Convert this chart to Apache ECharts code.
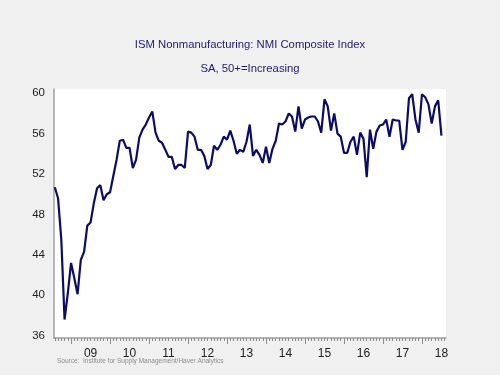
<!DOCTYPE html>
<html lang="en">
<head>
    <meta charset="UTF-8">
    <title>ISM Nonmanufacturing</title>
    <style>
        html, body {
            margin: 0;
            padding: 0;
            background: #f0f0f0;
        }

        #chart {
            width: 500px;
            height: 375px;
        }
    </style>
</head>
<body>
<div id="chart"></div>
<script src="https://cdn.jsdelivr.net/npm/echarts@6/dist/echarts.min.js"></script>
<script>
    // monthly values, Aug 2008 .. Jul 2018
    var firstYear = 2008;
    var firstMonth = 8;
    var v2008 = [50.7, 49.6, 45.5, 37.6, 40.2];
    var v2009 = [43.2, 41.7, 40.1, 43.5, 44.3, 46.9, 47.2, 49.1, 50.6, 50.9, 49.4, 50.0];
    var v2010 = [50.2, 51.8, 53.4, 55.3, 55.4, 54.6, 54.6, 52.6, 53.4, 55.6, 56.4, 56.9];
    var v2011 = [57.6, 58.2, 56.1, 55.3, 55.1, 54.4, 53.7, 53.7, 52.5, 52.9, 52.9, 52.6];
    var v2012 = [56.2, 56.1, 55.7, 54.4, 54.4, 53.8, 52.5, 52.9, 54.8, 54.4, 54.9, 55.7];
    var v2013 = [55.4, 56.3, 55.3, 54.0, 54.4, 54.2, 55.2, 56.9, 53.8, 54.4, 53.9, 53.1];
    var v2014 = [54.7, 53.1, 54.5, 55.3, 57.0, 56.9, 57.2, 58.0, 57.7, 56.2, 58.7, 56.5];
    var v2015 = [57.4, 57.6, 57.7, 57.7, 57.2, 56.1, 59.4, 58.7, 56.3, 58.0, 56.0, 55.7];
    var v2016 = [54.1, 54.1, 55.2, 55.7, 53.9, 56.1, 55.5, 51.7, 56.4, 54.5, 56.2, 56.8];
    var v2017 = [56.9, 57.4, 55.7, 57.4, 57.3, 57.3, 54.4, 55.2, 59.5, 59.9, 57.4, 56.1];
    var v2018 = [59.9, 59.6, 58.9, 57.0, 58.7, 59.3, 55.8];

    var yTicks = [36, 40, 44, 48, 52, 56, 60];
    var yearLabels = ['09', '10', '11', '12', '13', '14', '15', '16', '17', '18'];

    // x is months counted from Jan 2008
    var values = [].concat(v2008, v2009, v2010, v2011, v2012, v2013, v2014, v2015, v2016, v2017, v2018);
    var start = (firstYear - 2008) * 12 + firstMonth - 1;
    var data = values.map(function (v, i) {
        return [start + i, v];
    });

    var monthTicks = [], yearTicks = [], labelPos = [];
    for (var m = start; m <= start + values.length; m++) {
        monthTicks.push(m);
        if (m % 12 === 0) {
            yearTicks.push(m);
        }
    }
    yearLabels.forEach(function (lab, i) {
        labelPos.push(18 + i * 12);
    });

    var font = 'Arial, "Liberation Sans", sans-serif';
    var navy = '#1c1c70';

    var chart = echarts.init(document.getElementById('chart'));
    chart.setOption({
        backgroundColor: '#f0f0f0',
        animation: false,
        title: [
            {
                text: 'ISM Nonmanufacturing: NMI Composite Index',
                left: 'center',
                top: 39,
                padding: 0,
                textStyle: {fontFamily: font, fontSize: 11.3, fontWeight: 'normal', color: navy}
            },
            {
                text: 'SA, 50+=Increasing',
                left: 'center',
                top: 63,
                padding: 0,
                textStyle: {fontFamily: font, fontSize: 11.3, fontWeight: 'normal', color: navy}
            },
            {
                text: 'Source:  Institute for Supply Management/Haver Analytics',
                left: 57,
                top: 358,
                padding: 0,
                textStyle: {fontFamily: font, fontSize: 6.5, fontWeight: 'normal', color: '#8c8c8c'}
            }
        ],
        grid: {
            left: 54,
            right: 54,
            top: 89,
            bottom: 37,
            show: true,
            backgroundColor: '#ffffff',
            borderWidth: 0
        },
        xAxis: [
            {
                type: 'value',
                min: 6.75,
                max: 127.4,
                splitLine: {show: false},
                axisLine: {lineStyle: {color: '#a0a0a0', width: 1.5}},
                axisTick: {
                    customValues: monthTicks,
                    length: 3,
                    lineStyle: {color: '#8c8c8c'}
                },
                axisLabel: {
                    customValues: labelPos,
                    margin: 10,
                    fontFamily: font,
                    fontSize: 12,
                    color: '#222'
                    ,
                    formatter: function (v) {
                        return yearLabels[(v - 18) / 12];
                    }
                }
            },
            {
                type: 'value',
                min: 6.75,
                max: 127.4,
                position: 'bottom',
                splitLine: {show: false},
                axisLine: {show: false},
                axisTick: {
                    customValues: yearTicks,
                    length: 6,
                    lineStyle: {color: '#8c8c8c'}
                },
                axisLabel: {show: false}
            }
        ],
        yAxis: {
            type: 'value',
            min: 35.77,
            max: 60.42,
            splitLine: {show: false},
            axisLine: {show: true, lineStyle: {color: '#a0a0a0', width: 1.5}},
            axisTick: {show: false},
            axisLabel: {
                customValues: yTicks,
                margin: 9,
                fontFamily: font,
                fontSize: 11.5,
                color: '#222'
            }
        },
        series: [
            {
                type: 'line',
                data: data,
                showSymbol: false,
                lineStyle: {color: '#0c0c68', width: 2.2},
                clip: true
            }
        ]
    });
</script>
</body>
</html>
